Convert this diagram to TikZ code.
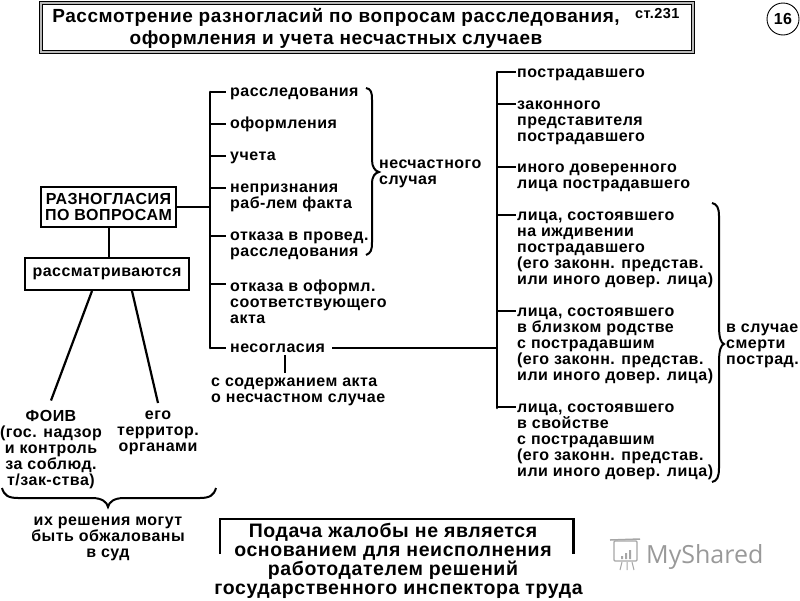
\documentclass[tikz,border=0pt]{standalone}
\usepackage{fontspec}
\setmainfont[LetterSpace=3]{Liberation Sans}
\newfontfamily\logofont{Open Sans}
\usetikzlibrary{calc}
\tikzset{x=1pt,y=-1pt,
 lab/.style={inner sep=0pt,anchor=north west,align=left,font=\bfseries\fontsize{16}{16}\selectfont},
 one/.style={lab,execute at begin node={\rule{0pt}{12pt}}},
 ctr/.style={inner sep=0pt,anchor=north,align=center,font=\bfseries\fontsize{16}{16}\selectfont},
 box/.style={draw=black,line width=2pt,fill=white,inner sep=0pt,align=center,font=\bfseries\fontsize{16}{16}\selectfont},
 wire/.style={line width=2.6pt,black},
 thin wire/.style={line width=2.2pt,black},
 bracestroke/.style={line width=2pt,black}}
\begin{document}
\begin{tikzpicture}
\useasboundingbox (0,0) rectangle (800,600);
% title frame
\node[draw=black,fill=gray!55,line width=.9pt,minimum width=655pt,minimum height=52pt,inner sep=0pt] (tf) at (366.5,27.5) {};
\node[draw=black,fill=white,line width=.9pt,minimum width=649pt,minimum height=46pt,inner sep=0pt] (ti) at (tf.center) {};
\node[inner sep=0pt,anchor=north,align=center,font=\bfseries\fontsize{19}{22}\selectfont] (title) at (336,8.5) {Рассмотрение разногласий по вопросам расследования,\\оформления и учета несчастных случаев};
\node[inner sep=0pt,anchor=north west,font=\bfseries\fontsize{14.5}{14}\selectfont] (art) at (635,8) {ст.231};
\node[draw=black,circle,line width=.9pt,minimum size=32pt,inner sep=0pt,font=\bfseries\fontsize{16}{16}\selectfont] (num) at (783,19) {16};
% left boxes
\node[box,minimum width=135pt,minimum height=40pt] (raz) at (108.5,207) {РАЗНОГЛАСИЯ\\ПО ВОПРОСАМ};
\node[box,minimum width=164pt,minimum height=32pt] (ras) at (107,274) {\raisebox{-3pt}{рассматриваются}};
\draw[thin wire] (raz.south -| 109,0) -- (ras.north -| 109,0);
\node[ctr] (foiv) at (51,410.5) {ФОИВ\\(гос. надзор\\и контроль\\за соблюд.\\т/зак-ства)};
\node[ctr] (terr) at (158,411) {его\\территор.\\органами};
\draw[thin wire] (ras.south -| 92,0) -- ($(foiv.north)+(0,-10)$);
\draw[thin wire] (ras.south -| 132,0) -- ($(terr.north)+(0,-8)$);
% middle list
\coordinate (sp1) at (210,92);
\coordinate (sp2) at (210,348);
\node[one] (a1) at (230,84) {расследования};
\node[one] (a2) at (230,116) {оформления};
\node[one] (a3) at (230,148) {учета};
\node[lab] (a4) at (230,184) {непризнания\\раб-лем факта};
\node[lab] (a5) at (230,232) {отказа в провед.\\расследования};
\node[lab] (a6) at (230,280) {отказа в оформл.\\соответствующего\\акта};
\node[one] (a7) at (230,340) {несогласия};
\node[lab] (a8) at (211,378) {с содержанием акта\\о несчастном случае};
\draw[wire,line cap=round] (sp1) -- (sp2);
\foreach \n/\o in {a1/8,a2/8,a3/8,a4/4,a5/4,a6/4,a7/8}
  \draw[wire] (sp1 |- {$(\n.north west)+(0,\o)$}) -- ($(\n.north west)+(-4,\o)$);
\draw[wire] (raz.east) -- (raz.east -| sp1);
\draw[thin wire] ($(sp2)+(75,7)$) -- ($(a8.north -| sp2)+(75,-5)$);
\node[lab] (ns) at (379,160) {несчастного\\случая};
\draw[bracestroke] (366,88) .. controls (371,89) and (372,92) .. (372,100) -- (372,160) .. controls (372,167) and (375,171) .. (379,172) .. controls (375,173) and (372,176) .. (372,184) -- (372,242) .. controls (372,250) and (371,253) .. (366,255);
% right list
\coordinate (sq1) at (497,72);
\coordinate (sq2) at (497,408);
\node[one] (b1) at (517,65) {пострадавшего};
\node[lab] (b2) at (517,101) {законного\\представителя\\пострадавшего};
\node[lab] (b3) at (517,164) {иного доверенного\\лица пострадавшего};
\node[lab] (b4) at (517,212) {лица, состоявшего\\на иждивении\\пострадавшего\\(его законн. представ.\\или иного довер. лица)};
\node[lab] (b5) at (517,308) {лица, состоявшего\\в близком родстве\\с пострадавшим\\(его законн. представ.\\или иного довер. лица)};
\node[lab] (b6) at (517,404) {лица, состоявшего\\в свойстве\\с пострадавшим\\(его законн. представ.\\или иного довер. лица)};
\draw[wire,line cap=round] (sq1) -- (sq2);
\foreach \n/\o in {b1/7,b2/3,b3/3,b4/3,b5/3,b6/3}
  \draw[wire] (sq1 |- {$(\n.north west)+(0,\o)$}) -- ($(\n.north west)+(-1,\o)$);
\draw[wire] ($(sp2)+(122,0)$) -- (sp2 -| sq1);
\node[lab] (sm) at (726,324) {в случае\\смерти\\пострад.};
\draw[bracestroke] (712,203) .. controls (717,204) and (719,208) .. (719,216) -- (719,326) .. controls (719,338) and (721,343) .. (724,344) .. controls (721,345) and (719,350) .. (719,362) -- (719,468) .. controls (719,477) and (717,481) .. (712,482);
% bottom left brace
\draw[bracestroke] (2,488) .. controls (4,495) and (8,498) .. (18,498) -- (92,498) .. controls (102,498) and (107,502) .. (108,507) .. controls (109,502) and (114,498) .. (124,498) -- (200,498) .. controls (210,498) and (214,495) .. (216,488);
\node[ctr] (res) at (108,517) {их решения могут\\быть обжалованы\\в суд};
% bottom box
\coordinate (c1) at (220,554);
\coordinate (c2) at (220,519);
\coordinate (c3) at (573.5,519);
\coordinate (c4) at (573.5,554);
\draw[wire] (c1) -- (c2) -- (c3) -- (c4);
\node[inner sep=0pt,anchor=north,align=center,font=\bfseries\fontsize{19.5}{19.2}\selectfont] (pod) at (393,522.5) {Подача жалобы не является\\основанием для неисполнения\\работодателем решений\\\hspace*{11pt}государственного инспектора труда};
% logo
\node[inner sep=0pt,anchor=west,text=gray!80,font=\logofont\fontsize{25}{28}\selectfont] (logo) at (646,557) {MyShared};
\draw[gray!70,line width=1.5pt] (610,540) -- (640,539);
\draw[gray!70,line width=1.2pt,rounded corners=1pt] (614,541) rectangle (637,561);
\fill[gray!70] (621,556) rectangle (623,559) (625,553) rectangle (627,559) (629,550) rectangle (631,559);
\draw[gray!70,line width=1pt] (622,562) -- (620,570) (627,562) -- (627,570) (632,562) -- (634,570);
\end{tikzpicture}
\end{document}
